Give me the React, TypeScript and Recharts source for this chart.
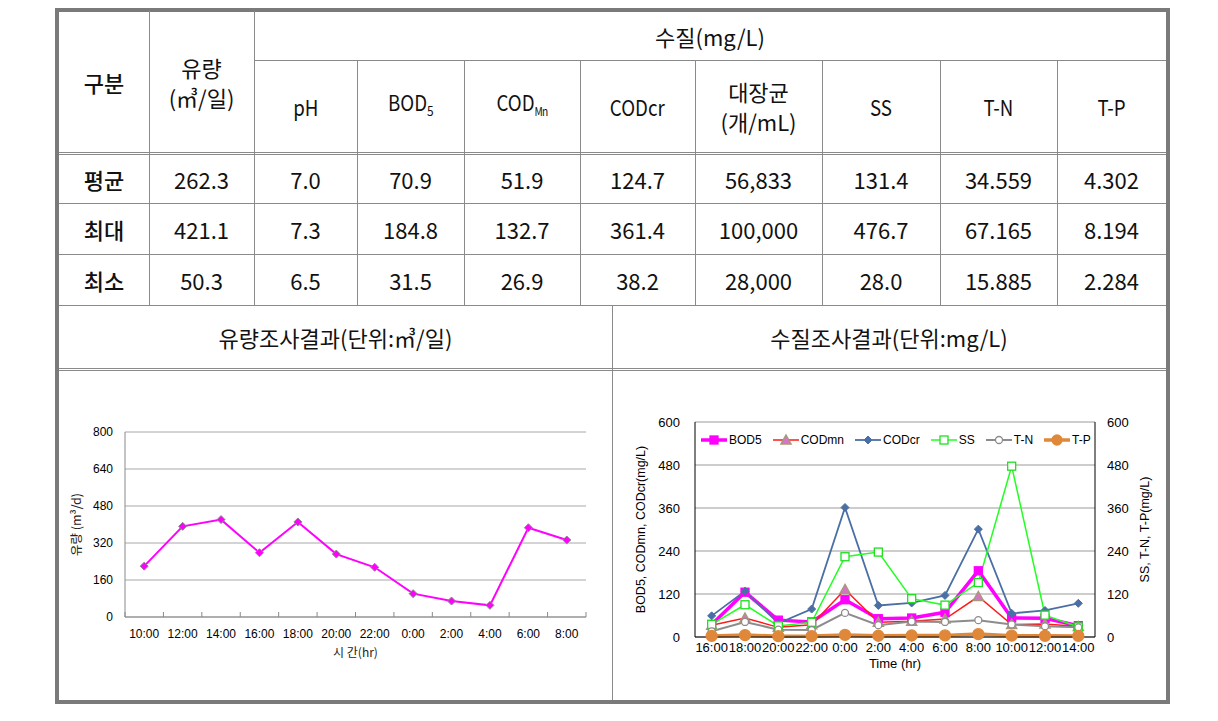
import React from 'react';
import { LineChart, Line, XAxis, YAxis, CartesianGrid, Legend, Label } from 'recharts';

/* ---- table values ---- */
const rowLabels = ['평균', '최대', '최소'];
const avgRow = ['262.3', '7.0', '70.9', '51.9', '124.7', '56,833', '131.4', '34.559', '4.302'];
const maxRow = ['421.1', '7.3', '184.8', '132.7', '361.4', '100,000', '476.7', '67.165', '8.194'];
const minRow = ['50.3', '6.5', '31.5', '26.9', '38.2', '28,000', '28.0', '15.885', '2.284'];

/* ---- flow chart ---- */
const flowTimes = ['10:00', '12:00', '14:00', '16:00', '18:00', '20:00', '22:00', '0:00', '2:00', '4:00', '6:00', '8:00'];
const flowValues = [220, 392, 421.1, 278, 411, 272, 215, 101, 69, 50.3, 386, 333];
const flowTicks = [0, 160, 320, 480, 640, 800];

/* ---- water quality chart ---- */
const qualityTimes = ['16:00', '18:00', '20:00', '22:00', '0:00', '2:00', '4:00', '6:00', '8:00', '10:00', '12:00', '14:00'];
const bod5 = [35, 125, 47, 42, 104, 51, 53, 69, 184.8, 53, 52, 31.5];
const codMn = [33, 53, 26.9, 34, 132.7, 41, 44, 50, 113, 35, 36, 29];
const codCr = [59, 128, 38.2, 78, 361.4, 88, 95, 116, 301, 66, 74, 94];
const ss = [35, 90, 31, 41, 224, 237, 107, 89, 152, 476.7, 61, 28];
const tn = [15.9, 42, 20.5, 19.6, 67.2, 33, 43, 42, 47, 35, 30, 27];
const tp = [3.0, 5.5, 2.3, 2.5, 5.8, 3.5, 4.2, 4.5, 8.2, 3.8, 3.3, 3.0];
const qualityTicks = [0, 120, 240, 360, 480, 600];

const flowData = flowTimes.map((t, i) => ({ time: t, flow: flowValues[i] }));
const qualityData = qualityTimes.map((t, i) => ({
  time: t, BOD5: bod5[i], CODmn: codMn[i], CODcr: codCr[i], SS: ss[i], TN: tn[i], TP: tp[i],
}));

const KR = '"Noto Sans CJK KR", "Noto Sans", sans-serif';
const ARIAL = '"Liberation Sans", Arial, sans-serif';

type Marker = 'square' | 'triangle' | 'diamond' | 'circle';
const qualitySeries = [
  { key: 'BOD5', label: 'BOD5', axis: 'left', color: '#ff00ff', width: 3.5, marker: 'square' as Marker, fill: '#ff00ff', mstroke: '#ff00ff', size: 4 },
  { key: 'CODmn', label: 'CODmn', axis: 'left', color: '#ff1a1a', width: 1.5, marker: 'triangle' as Marker, fill: '#d874c8', mstroke: '#a8987a', size: 5 },
  { key: 'CODcr', label: 'CODcr', axis: 'left', color: '#4a6fa5', width: 1.8, marker: 'diamond' as Marker, fill: '#4a6fa5', mstroke: '#4a6fa5', size: 4 },
  { key: 'SS', label: 'SS', axis: 'right', color: '#22ff22', width: 1.5, marker: 'square' as Marker, fill: '#ffffff', mstroke: '#1ee01e', size: 4 },
  { key: 'TN', label: 'T-N', axis: 'right', color: '#8c8c8c', width: 2, marker: 'circle' as Marker, fill: '#ffffff', mstroke: '#8c8c8c', size: 3.5 },
  { key: 'TP', label: 'T-P', axis: 'right', color: '#e0883a', width: 3.5, marker: 'circle' as Marker, fill: '#e0883a', mstroke: '#e0883a', size: 5.5 },
];

function drawMarker(kind: Marker, cx: number, cy: number, r: number, fill: string, stroke: string, key?: any) {
  if (kind === 'square') return <rect key={key} x={cx - r} y={cy - r} width={r * 2} height={r * 2} fill={fill} stroke={stroke} strokeWidth={1.3} />;
  if (kind === 'diamond') return <polygon key={key} points={`${cx},${cy - r} ${cx + r},${cy} ${cx},${cy + r} ${cx - r},${cy}`} fill={fill} stroke={stroke} strokeWidth={1} />;
  if (kind === 'triangle') return <polygon key={key} points={`${cx},${cy - r} ${cx + r},${cy + r * 0.8} ${cx - r},${cy + r * 0.8}`} fill={fill} stroke={stroke} strokeWidth={1.5} />;
  return <circle key={key} cx={cx} cy={cy} r={r} fill={fill} stroke={stroke} strokeWidth={1.3} />;
}

/* layout of the flow chart */
const FLOW_W = 548;
const FLOW_H = 320;
const FLOW_MARGIN = { top: 57, right: 22, bottom: 48, left: 0 };
const FLOW_YAXIS_W = 65;
const FLOW_BAND = (FLOW_W - FLOW_MARGIN.left - FLOW_MARGIN.right - FLOW_YAXIS_W) / flowTimes.length;

/* layout of the quality chart */
const Q_W = 550;
const Q_YAXIS_L = 78;
const Q_YAXIS_R = 72;
const Q_BAND = (Q_W - Q_YAXIS_L - Q_YAXIS_R) / qualityTimes.length;

function FlowTick(props: any) {
  const { x, y, payload, index } = props;
  const axisY = y - 12;
  const half = FLOW_BAND / 2;
  return (
    <g>
      <line x1={x - half} x2={x - half} y1={axisY - 5} y2={axisY} stroke="#8a8a8a" />
      {index === flowTimes.length - 1 && <line x1={x + half} x2={x + half} y1={axisY - 5} y2={axisY} stroke="#8a8a8a" />}
      <text x={x} y={y} dy="0.71em" textAnchor="middle" fontSize={12} fontFamily={ARIAL} fill="#000">{payload.value}</text>
    </g>
  );
}

function FlowDiamond(p: any) {
  if (p.cx == null || p.cy == null) return <g key={p.index} />;
  return drawMarker('diamond', p.cx, p.cy, 4, '#ff00ff', '#8a8a8a', p.index);
}

function FlowChart() {
  return (
    <LineChart width={FLOW_W} height={FLOW_H} data={flowData} margin={FLOW_MARGIN}>
      <CartesianGrid vertical={false} stroke="#a8a8a8" yAxisId="l" />
      <XAxis dataKey="time" interval={0} tickLine={false} tickSize={0} tickMargin={12} height={30}
        padding={{ left: FLOW_BAND / 2, right: FLOW_BAND / 2 }}
        axisLine={{ stroke: '#8a8a8a' }} tick={(p: any) => <FlowTick {...p} />}>
        <Label value="시 간(hr)" position="bottom" offset={1} fontSize={12} fontFamily={KR} fill="#222" />
      </XAxis>
      <YAxis yAxisId="l" domain={[0, 800]} ticks={flowTicks} width={FLOW_YAXIS_W} tickLine={false}
        tickSize={6} tickMargin={6} axisLine={{ stroke: '#8a8a8a' }}
        tick={{ fontSize: 12, fontFamily: ARIAL, fill: '#000' }}>
        <Label value="유량 (m³/d)" angle={-90} position="insideLeft" offset={17} fontSize={12.5}
          fontFamily={KR} fill="#222" style={{ textAnchor: 'middle' }} />
      </YAxis>
      <YAxis yAxisId="r" orientation="right" domain={[0, 800]} width={0} tick={false} tickLine={false}
        axisLine={{ stroke: '#8a8a8a' }} />
      <Line yAxisId="l" type="linear" dataKey="flow" stroke="#ff00ff" strokeWidth={2}
        dot={(p: any) => <FlowDiamond {...p} />} activeDot={false} isAnimationActive={false} />
    </LineChart>
  );
}

function QualityLegend() {
  return (
    <div style={{ display: 'flex', alignItems: 'center', fontFamily: ARIAL, fontSize: 12, color: '#000', whiteSpace: 'nowrap' }}>
      {qualitySeries.map((s, i) => (
        <div key={s.key} style={{ display: 'flex', alignItems: 'center', marginLeft: i ? 11 : 0 }}>
          <svg width={26} height={14} style={{ display: 'block' }}>
            <line x1={0} x2={26} y1={7} y2={7} stroke={s.color} strokeWidth={s.width} />
            {drawMarker(s.marker, 13, 7, Math.min(s.size, 5), s.fill, s.mstroke)}
          </svg>
          <span style={{ marginLeft: 2 }}>{s.label}</span>
        </div>
      ))}
    </div>
  );
}

function QualityChart() {
  return (
    <LineChart width={Q_W} height={320} data={qualityData} margin={{ top: 47, right: 0, bottom: 38, left: 0 }}>
      <CartesianGrid vertical={false} stroke="#9a9a9a" yAxisId="left" />
      <XAxis dataKey="time" interval={0} tickLine={false} tickSize={0} tickMargin={6} height={20}
        padding={{ left: Q_BAND / 2, right: Q_BAND / 2 }}
        axisLine={{ stroke: '#000' }} tick={{ fontSize: 13, fontFamily: ARIAL, fill: '#000' }}>
        <Label value="Time (hr)" position="bottom" offset={2} fontSize={13} fontFamily={ARIAL} fill="#000" />
      </XAxis>
      <XAxis xAxisId="top" dataKey="time" orientation="top" height={0} tick={false} tickLine={false}
        axisLine={{ stroke: '#000' }} />
      <YAxis yAxisId="left" domain={[0, 600]} ticks={qualityTicks} width={Q_YAXIS_L} tickLine={false}
        tickSize={6} tickMargin={9} axisLine={{ stroke: '#000' }}
        tick={{ fontSize: 13, fontFamily: ARIAL, fill: '#000' }}>
        <Label value="BOD5, CODmn, CODcr(mg/L)" angle={-90} position="insideLeft" offset={24}
          fontSize={12.5} fontFamily={ARIAL} fill="#000" style={{ textAnchor: 'middle' }} />
      </YAxis>
      <YAxis yAxisId="right" orientation="right" domain={[0, 600]} ticks={qualityTicks} width={Q_YAXIS_R}
        tickLine={false} tickSize={6} tickMargin={6} axisLine={{ stroke: '#000' }}
        tick={{ fontSize: 13, fontFamily: ARIAL, fill: '#000' }}>
        <Label value="SS, T-N, T-P(mg/L)" angle={-90} position="insideRight" offset={22}
          fontSize={12.5} fontFamily={ARIAL} fill="#000" style={{ textAnchor: 'middle' }} />
      </YAxis>
      <Legend layout="horizontal" verticalAlign="middle" align="center" content={() => <QualityLegend />}
        wrapperStyle={{ top: 58, left: 84, width: 'auto', height: 14 }} />
      {qualitySeries.map((s) => (
        <Line key={s.key} yAxisId={s.axis} type="linear" dataKey={s.key} stroke={s.color}
          strokeWidth={s.width} activeDot={false} isAnimationActive={false}
          dot={(p: any) => (p.cx == null ? <g key={p.index} /> : drawMarker(s.marker, p.cx, p.cy, s.size, s.fill, s.mstroke, p.index))} />
      ))}
    </LineChart>
  );
}

/* ---- table frame ---- */
const LINE = '#8a8a8a';
const colX = [149, 254, 357, 464, 580, 695, 822, 940, 1057, 1166];
const rowY = [154, 203, 254, 305];

function HLine({ y, x1, x2 }: { y: number; x1: number; x2: number }) {
  return <div style={{ position: 'absolute', left: x1, top: y, width: x2 - x1, height: 1, background: LINE }} />;
}
function VLine({ x, y1, y2 }: { x: number; y1: number; y2: number }) {
  return <div style={{ position: 'absolute', left: x, top: y1, width: 1, height: y2 - y1, background: LINE }} />;
}
function Cell({ x1, x2, y1, y2, children, style }: any) {
  return (
    <div style={{ position: 'absolute', left: x1, top: y1, width: x2 - x1, height: y2 - y1, display: 'flex',
      flexDirection: 'column', alignItems: 'center', justifyContent: 'center', lineHeight: '30px', ...style }}>
      {children}
    </div>
  );
}

const narrow = { display: 'inline-block', transform: 'scaleX(0.85)' };
const paramHeads: React.ReactNode[] = [
  <span style={narrow}>pH</span>,
  <span style={narrow}>BOD<sub style={{ fontSize: 14 }}>5</sub></span>,
  <span style={narrow}>COD<sub style={{ fontSize: 12, letterSpacing: -1 }}>Mn</sub></span>,
  <span style={narrow}>CODcr</span>,
  <><span>대장균</span><span>(개/mL)</span></>,
  <span style={narrow}>SS</span>,
  <span style={narrow}>T-N</span>,
  <span style={narrow}>T-P</span>,
];

function Table() {
  const rows = [avgRow, maxRow, minRow];
  const left = 59;
  const right = 1166;
  return (
    <div style={{ position: 'absolute', left: 0, top: 0, width: 1218, height: 721, fontFamily: KR, fontSize: 22, color: '#111' }}>
      <div style={{ position: 'absolute', left: 55, top: 8, width: 1115, height: 696, border: '4px solid #7a7a7a', boxSizing: 'border-box' }} />
      <VLine x={149} y1={11} y2={305} />
      <VLine x={254} y1={11} y2={305} />
      <HLine y={60} x1={254} x2={right} />
      {colX.slice(2, 9).map((x) => <VLine key={x} x={x} y1={60} y2={305} />)}
      <HLine y={152} x1={left} x2={right} />
      {rowY.map((y) => <HLine key={y} y={y} x1={left} x2={right} />)}
      <HLine y={368} x1={left} x2={right} />
      <HLine y={370} x1={left} x2={right} />
      <VLine x={612} y1={305} y2={700} />

      <Cell x1={left} x2={149} y1={11} y2={152} style={{ fontWeight: 500 }}>구분</Cell>
      <Cell x1={149} x2={254} y1={11} y2={152}><span>유량</span><span>(㎥/일)</span></Cell>
      <Cell x1={254} x2={right} y1={11} y2={60}>수질(mg/L)</Cell>
      {paramHeads.map((h, i) => (
        <Cell key={i} x1={colX[i + 1]} x2={colX[i + 2]} y1={60} y2={152}>{h}</Cell>
      ))}
      {rows.map((r, ri) => (
        <React.Fragment key={ri}>
          <Cell x1={left} x2={149} y1={rowY[ri]} y2={rowY[ri + 1]} style={{ fontWeight: 500 }}>{rowLabels[ri]}</Cell>
          {r.map((v, ci) => (
            <Cell key={ci} x1={colX[ci]} x2={colX[ci + 1]} y1={rowY[ri]} y2={rowY[ri + 1]}>{v}</Cell>
          ))}
        </React.Fragment>
      ))}
      <Cell x1={left} x2={612} y1={305} y2={368}>유량조사결과(단위:㎥/일)</Cell>
      <Cell x1={612} x2={right} y1={305} y2={368}>수질조사결과(단위:mg/L)</Cell>
    </div>
  );
}

export default function App() {
  return (
    <div style={{ position: 'absolute', left: 0, top: 0, width: 1218, height: 721, background: '#fff' }}>
      <Table />
      <div style={{ position: 'absolute', left: 60, top: 375 }}>
        <FlowChart />
      </div>
      <div style={{ position: 'absolute', left: 617, top: 375 }}>
        <QualityChart />
      </div>
    </div>
  );
}
